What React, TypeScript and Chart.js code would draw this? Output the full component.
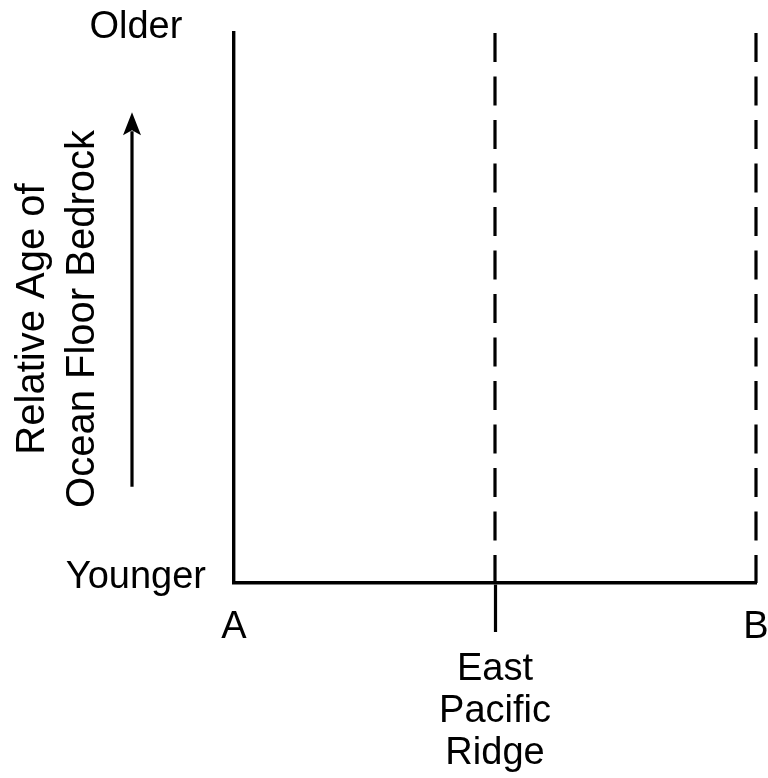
import React, { useEffect, useRef } from "react";
import { Chart, registerables } from "chart.js";

Chart.register(...registerables);

// Categories along the profile (A → East Pacific Ridge → B)
const X_POSITIONS = [0, 0.5, 1];
const X_LABELS: (string | string[])[] = ["A", ["", "East", "Pacific", "Ridge"], "B"];
// Vertical axis ticks
const Y_TICKS = [0, 1];
const Y_LABELS = ["Younger", "Older"];
const Y_TITLE = ["Relative Age of", "Ocean Floor Bedrock"];
// Dashed reference lines
const RIDGE_X = 0.5;
const B_X = 1;
const LINE_TOP = 1;
const LINE_BOTTOM = 0;
// Arrow along the y title (in y-axis values)
const ARROW_FROM = 0.175;
const ARROW_TO = 0.856;

const FONT = "'Liberation Sans', Arial, Helvetica, sans-serif";

const annotationsPlugin = {
  id: "ageAnnotations",
  afterDraw(chart: any) {
    const { ctx, chartArea, scales } = chart;
    const y = scales.y;

    // y-axis title (two lines, rotated)
    ctx.save();
    ctx.fillStyle = "#000";
    ctx.font = `40px ${FONT}`;
    ctx.textAlign = "center";
    ctx.textBaseline = "middle";
    const cy = (chartArea.top + chartArea.bottom) / 2 + 11;
    Y_TITLE.forEach((line, i) => {
      ctx.save();
      ctx.translate(33 + i * 50, cy);
      ctx.rotate(-Math.PI / 2);
      ctx.fillText(line, 0, 0);
      ctx.restore();
    });
    ctx.restore();

    // arrow
    const x = chartArea.left - 102;
    const y0 = y.getPixelForValue(ARROW_FROM);
    const y1 = y.getPixelForValue(ARROW_TO);
    const headH = 23;
    const headW = 9;
    ctx.save();
    ctx.strokeStyle = "#000";
    ctx.fillStyle = "#000";
    ctx.lineWidth = 3.2;
    ctx.beginPath();
    ctx.moveTo(x, y0);
    ctx.lineTo(x, y1 + headH - 4);
    ctx.stroke();
    ctx.beginPath();
    ctx.moveTo(x, y1);
    ctx.lineTo(x + headW, y1 + headH);
    ctx.lineTo(x, y1 + headH - 5);
    ctx.lineTo(x - headW, y1 + headH);
    ctx.closePath();
    ctx.fill();
    ctx.restore();
  },
};

export default function App() {
  const ref = useRef<HTMLCanvasElement | null>(null);

  useEffect(() => {
    if (!ref.current) return;
    const dashed = (xv: number) => ({
      data: [
        { x: xv, y: LINE_TOP },
        { x: xv, y: LINE_BOTTOM },
      ],
      borderColor: "#000",
      borderWidth: 3.2,
      borderDash: [29, 14.5],
      pointRadius: 0,
      fill: false,
      clip: false as any,
    });
    const chart = new Chart(ref.current, {
      type: "line",
      data: {
        datasets: [dashed(RIDGE_X), dashed(B_X)] as any,
      },
      options: {
        animation: false,
        responsive: false,
        maintainAspectRatio: false,
        layout: { padding: { top: 33, right: 12, left: 0, bottom: 0 } },
        plugins: {
          legend: { display: false },
          tooltip: { enabled: false },
        },
        scales: {
          x: {
            type: "linear",
            min: 0,
            max: 1,
            afterBuildTicks: (s: any) => {
              s.ticks = X_POSITIONS.map((v) => ({ value: v }));
            },
            afterFit: (s: any) => {
              s.height = 195;
              s.paddingLeft = 0;
              s.paddingRight = 0;
            },
            grid: {
              display: true,
              drawOnChartArea: false,
              drawTicks: true,
              tickLength: 49,
              tickWidth: 3.2,
              tickColor: (c: any) =>
                c.tick && c.tick.value === RIDGE_X ? "#000" : "rgba(0,0,0,0)",
            },
            border: { display: true, color: "#000", width: 3.6 },
            ticks: {
              autoSkip: false,
              maxRotation: 0,
              minRotation: 0,
              padding: -25,
              color: "#000",
              font: { family: FONT, size: 38, lineHeight: 42 / 38 },
              callback: (_v: any, i: number) => X_LABELS[i],
            },
          },
          y: {
            type: "linear",
            min: 0,
            max: 1,
            afterBuildTicks: (s: any) => {
              s.ticks = Y_TICKS.map((v) => ({ value: v }));
            },
            afterFit: (s: any) => {
              s.width = 234;
              s.paddingTop = 0;
              s.paddingBottom = 0;
            },
            grid: { display: false, drawTicks: false },
            border: { display: true, color: "#000", width: 3.4 },
            ticks: {
              crossAlign: "center",
              padding: 28,
              labelOffset: -5,
              color: "#000",
              font: { family: FONT, size: 38 },
              callback: (_v: any, i: number) => Y_LABELS[i],
            },
            title: { display: false, text: Y_TITLE },
          },
        },
      },
      plugins: [annotationsPlugin],
    });
    return () => chart.destroy();
  }, []);

  return (
    <div style={{ position: "absolute", left: 0, top: 0, width: 768, height: 778, background: "#fff" }}>
      <canvas ref={ref} width={768} height={778} style={{ width: 768, height: 778, display: "block" }} />
    </div>
  );
}
